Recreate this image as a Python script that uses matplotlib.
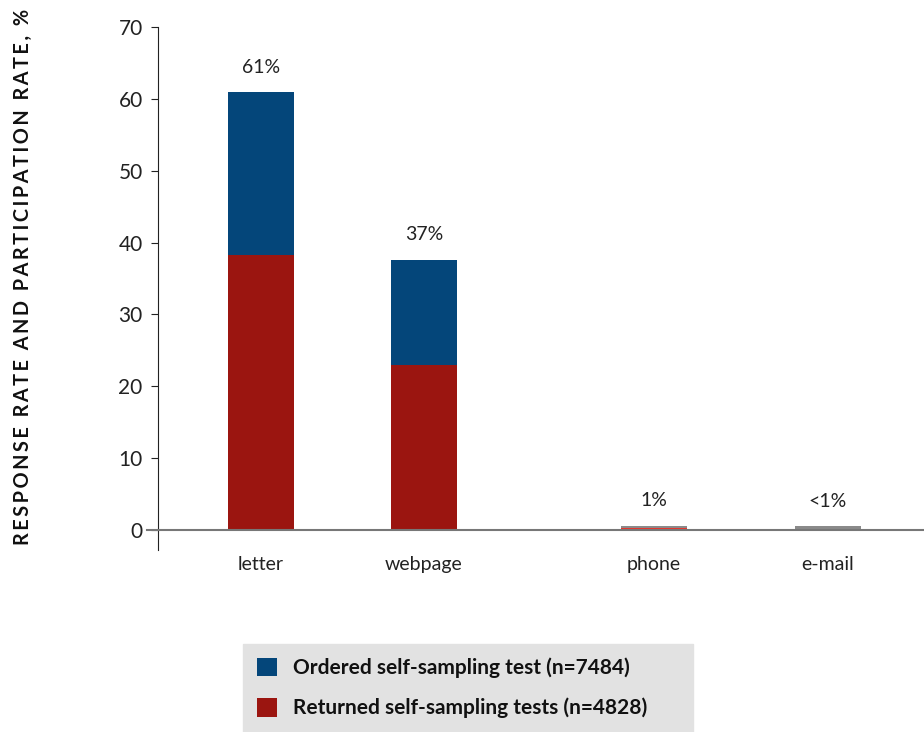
import numpy as np
import matplotlib.pyplot as plt
from matplotlib.patches import Patch
from matplotlib.lines import Line2D

categories = ["letter", "webpage", "phone", "e-mail"]
returned = [38.3, 23.0, 0.3, 0.0]
ordered = [22.6, 14.6, 0.3, 0.5]
totals_text = ["61%", "37%", "1%", "<1%"]
legend_labels = ["Ordered self-sampling test (n=7484)",
                 "Returned self-sampling tests (n=4828)"]

# category centres are not evenly spaced in the original
xpos = [0, 1, 2.41, 3.48]

blue = "#04467a"
red = "#9b1510"
ret_colors = [red, red, "#e8352c", "#8a8a8a"]
ord_colors = [blue, blue, "#8a8a8a", "#8a8a8a"]

plt.rcParams['font.family'] = ['Lato', 'DejaVu Sans']

fig = plt.figure(figsize=(9.24, 7.32), dpi=100)
ax = fig.add_axes([158/924, 1 - 550/732, (924-158)/924, (550-27)/732])

w = 0.405
ax.bar(xpos, returned, width=w, color=ret_colors, zorder=2)
ax.bar(xpos, ordered, width=w, bottom=returned, color=ord_colors, zorder=2)

for x, r, o, t in zip(xpos, returned, ordered, totals_text):
    ax.text(x, r + o + 2.3, t, ha="center", va="bottom", fontsize=14, color="#222222")

ax.set_ylim(-2.8, 70)
ax.set_xlim(-0.632, 4.07)
ax.set_yticks(np.arange(0, 71, 10))
ax.tick_params(axis="y", labelsize=15, length=5, color="#222222", labelcolor="#222222", pad=6)
ax.set_xticks([])
for x, c in zip(xpos, categories):
    ax.text(x, -3.6, c, ha="center", va="top", fontsize=14, color="#222222")

for s in ["top", "right", "bottom"]:
    ax.spines[s].set_visible(False)
ax.spines["left"].set_color("#222222")
ax.spines["left"].set_bounds(-2.8, 70)

ax.add_line(Line2D([-0.015, 1], [0, 0], transform=ax.get_yaxis_transform(),
                   color="#777777", lw=1.5, clip_on=False, zorder=3))

ylab = "RESPONSE RATE AND PARTICIPATION RATE, %"
ylab = "\u2009".join(ylab).replace("\u2009 \u2009", "  ")
fig.text(23/924, 1 - 277/732, ylab,
         rotation=90, ha="center", va="center", fontsize=14.3, fontweight="bold", color="#111111")

handles = [Patch(facecolor=blue), Patch(facecolor=red)]
leg = fig.legend(handles, legend_labels, loc="lower left",
                 bbox_to_anchor=(243/924, 0, (693-243)/924, 90/732), mode="expand",
                 frameon=True, fancybox=False, facecolor="#e2e2e2", edgecolor="#e2e2e2",
                 framealpha=1, borderaxespad=0, handlelength=1.0, handleheight=1.0,
                 handletextpad=0.75, labelspacing=0.95, borderpad=0.65,
                 prop={"size": 15, "weight": "bold"})
for t in leg.get_texts():
    t.set_color("#111111")

fig.savefig("out.png", dpi=100)
